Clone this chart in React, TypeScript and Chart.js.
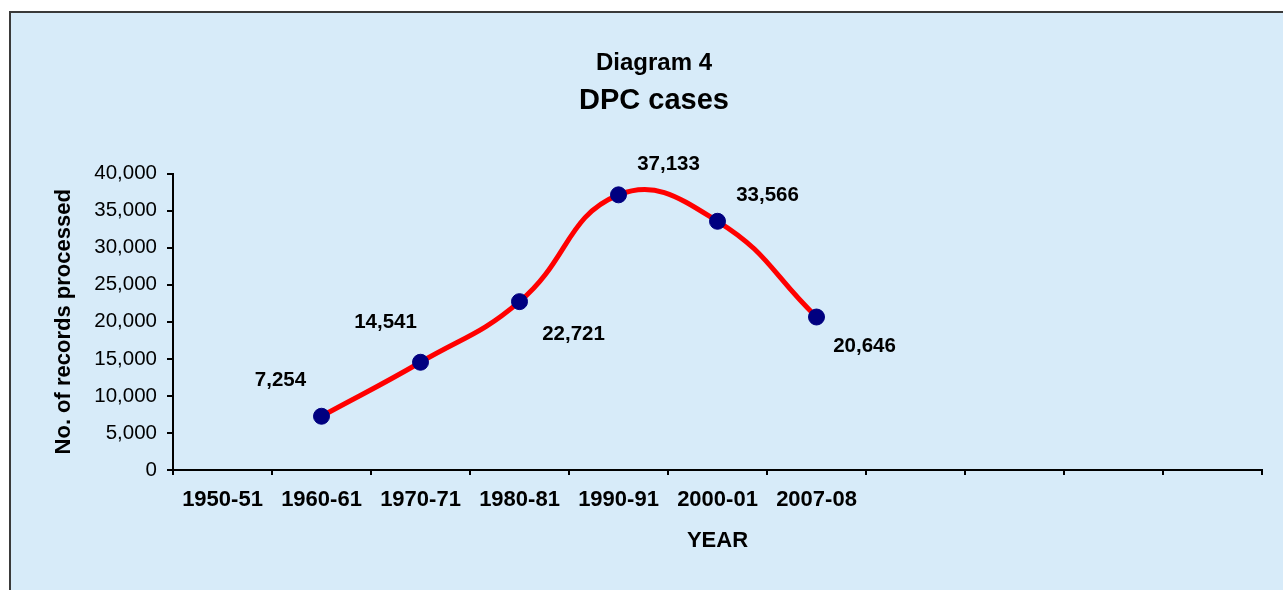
import React, { useEffect, useRef } from 'react';
import { Chart, registerables } from 'chart.js';

Chart.register(...registerables);

// ---- Data ----
const categories: string[] = ['1950-51', '1960-61', '1970-71', '1980-81', '1990-91', '2000-01', '2007-08', '', '', '', ''];
const dpcCases: (number | null)[] = [null, 7254, 14541, 22721, 37133, 33566, 20646, null, null, null, null];
const yMin = 0;
const yMax = 40000;
const yStep = 5000;
const chartTitle = 'Diagram 4';
const chartSubtitle = 'DPC cases';
const xAxisTitle = 'YEAR';
const yAxisTitle = 'No. of records processed';

// label placement (dx, dy in px relative to the point)
const labelPlacement: [number, number][] = [[0, 0], [-41, -36], [-35, -40], [54, 33], [50, -31], [50, -26], [48, 29], [0, 0], [0, 0], [0, 0], [0, 0]];

const FONT = "'Liberation Sans', Arial, Helvetica, sans-serif";

const dataLabelPlugin = {
  id: 'dataLabelPlugin',
  afterDatasetsDraw(chart: any) {
    const ctx = chart.ctx;
    const meta = chart.getDatasetMeta(0);
    ctx.save();
    ctx.font = `bold 20.5px ${FONT}`;
    ctx.fillStyle = '#000000';
    ctx.textAlign = 'center';
    ctx.textBaseline = 'middle';
    meta.data.forEach((el: any, i: number) => {
      const v = dpcCases[i];
      if (v === null || v === undefined) return;
      const [dx, dy] = labelPlacement[i];
      ctx.fillText(v.toLocaleString('en-US'), el.x + dx, el.y + dy);
    });
    ctx.restore();
  },
};

export default function App() {
  const canvasRef = useRef<HTMLCanvasElement | null>(null);

  useEffect(() => {
    if (!canvasRef.current) return;
    const chart = new Chart(canvasRef.current, {
      type: 'line',
      data: {
        labels: categories,
        datasets: [
          {
            label: 'DPC cases',
            data: dpcCases,
            borderColor: '#FF0000',
            borderWidth: 5,
            tension: 0.45,
            pointRadius: 8,
            pointHoverRadius: 8,
            pointBackgroundColor: '#000080',
            pointBorderColor: '#000080',
            pointBorderWidth: 1,
            fill: false,
            clip: false,
          },
        ],
      },
      options: {
        responsive: false,
        animation: false,
        events: [],
        layout: { padding: { left: 46, right: 21, top: 0, bottom: 0 } },
        plugins: {
          legend: { display: false },
          tooltip: { enabled: false },
          title: {
            display: true,
            text: chartTitle,
            color: '#000000',
            font: { family: FONT, size: 24, weight: 'bold', lineHeight: 1.2 },
            padding: { top: 49, bottom: 0 },
          },
          subtitle: {
            display: true,
            text: chartSubtitle,
            color: '#000000',
            font: { family: FONT, size: 29, weight: 'bold', lineHeight: 1.2 },
            padding: { top: 6, bottom: 55 },
          },
        },
        scales: {
          x: {
            type: 'category',
            offset: true,
            afterFit: (scale: any) => { scale.height = 120; },
            grid: {
              offset: true,
              drawOnChartArea: false,
              drawTicks: true,
              tickLength: 5,
              color: '#000000',
              lineWidth: 2,
            },
            border: { display: true, color: '#000000', width: 2 },
            ticks: {
              color: '#000000',
              padding: 12,
              maxRotation: 0,
              autoSkip: false,
              font: { family: FONT, size: 22, weight: 'bold', lineHeight: 1.2 },
            },
            title: {
              display: true,
              text: xAxisTitle,
              color: '#000000',
              font: { family: FONT, size: 22, weight: 'bold', lineHeight: 1.2 },
              padding: { top: 0, bottom: 36 },
            },
          },
          y: {
            min: yMin,
            max: yMax,
            afterFit: (scale: any) => { scale.width = 127; },
            grid: {
              drawOnChartArea: false,
              drawTicks: true,
              tickLength: 6,
              color: '#000000',
              lineWidth: 2,
            },
            border: { display: true, color: '#000000', width: 2 },
            ticks: {
              stepSize: yStep,
              color: '#000000',
              padding: 10,
              font: { family: FONT, size: 20.5, weight: 'normal' },
              callback: (v: any) => Number(v).toLocaleString('en-US'),
            },
            title: {
              display: true,
              text: yAxisTitle,
              color: '#000000',
              font: { family: FONT, size: 22, weight: 'bold', lineHeight: 1.2 },
              padding: { top: 5, bottom: 0 },
            },
          },
        },
      } as any,
      plugins: [dataLabelPlugin],
    });
    return () => chart.destroy();
  }, []);

  return (
    <div style={{ position: 'absolute', left: 0, top: 0, width: 1283, height: 590, background: '#ffffff', overflow: 'hidden' }}>
      <div
        style={{
          position: 'absolute',
          left: 9,
          top: 11,
          right: 0,
          bottom: 0,
          background: '#D7EBF9',
          borderLeft: '2px solid #3a3a3a',
          borderTop: '2px solid #3a3a3a',
        }}
      />
      <canvas ref={canvasRef} width={1283} height={590} style={{ position: 'absolute', left: 0, top: 0, width: 1283, height: 590 }} />
    </div>
  );
}
